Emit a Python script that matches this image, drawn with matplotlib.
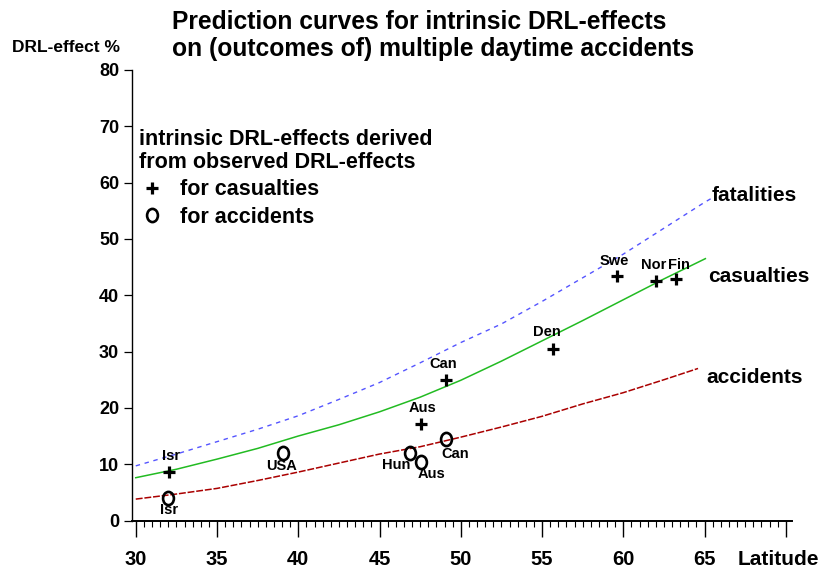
import matplotlib.pyplot as plt
from matplotlib.path import Path
from matplotlib.lines import Line2D
from matplotlib.ticker import MultipleLocator

plt.rcParams['font.family'] = ['Liberation Sans', 'DejaVu Sans']
plt.rcParams['font.weight'] = 'bold'

W, H = 824, 571

# prediction curves (latitude -> DRL-effect %)
fat_lat = [30, 32.5, 35, 37.5, 40, 42.5, 45, 47.5, 50, 52.5, 55, 57.5, 60, 62.5, 65, 65.6]
fat_val = [9.7, 11.8, 14.0, 16.2, 18.6, 21.5, 24.5, 28.0, 31.6, 34.9, 38.9, 43.1, 47.3, 51.9, 56.5, 57.5]

cas_lat = [30, 32.5, 35, 37.5, 40, 42.5, 45, 47.5, 50, 52.5, 55, 57.5, 60, 62.5, 65.05]
cas_val = [7.6, 9.1, 10.9, 12.8, 15.0, 17.0, 19.3, 21.9, 24.9, 28.3, 31.9, 35.5, 39.2, 42.9, 46.5]

acc_lat = [30, 32.5, 35, 37.5, 40, 42.5, 45, 47.5, 50, 52.5, 55, 57.5, 60, 62.5, 64.6]
acc_val = [3.8, 4.7, 5.7, 7.1, 8.6, 10.2, 11.8, 13.1, 14.8, 16.6, 18.5, 20.7, 22.7, 25.0, 27.0]

# intrinsic effects derived from observed effects
cas_names = ['Isr', 'Aus', 'Can', 'Den', 'Swe', 'Nor', 'Fin']
cas_pt_lat = [32.06, 47.57, 49.12, 55.66, 59.63, 62.04, 63.27]
cas_pt_val = [8.6, 17.2, 25.0, 30.5, 43.5, 42.6, 42.8]

acc_names = ['Isr', 'USA', 'Hun', 'Aus', 'Can']
acc_pt_lat = [31.99, 39.05, 46.87, 47.57, 49.12]
acc_pt_val = [4.0, 11.9, 12.0, 10.4, 14.4]

x_ticks = [30, 35, 40, 45, 50, 55, 60, 65, 70]
x_labels = ['30', '35', '40', '45', '50', '55', '60', '65', '']
y_ticks = [0, 10, 20, 30, 40, 50, 60, 70, 80]

# label offsets in pixels (dx, dy)
cas_off = [(2, 15), (1, 15), (-3, 15), (-6, 16), (-3, 14), (-3, 15), (3, 13)]
acc_off = [(1, -13), (-1, -14), (-14, -13), (10, -13), (9, -16)]


def fx(x):
    return x / W


def fy(y):
    return 1 - y / H


fig = plt.figure(figsize=(W / 100, H / 100), dpi=100)
ax = fig.add_axes([fx(131.7), fy(520.5), (792.3 - 131.7) / W, (520.5 - 70) / H])

ax.plot(fat_lat, fat_val, color='#5555ff', lw=1.0, dashes=(3.2, 3.4), clip_on=False)
ax.plot(cas_lat, cas_val, color='#22bb22', lw=1.1, clip_on=False)
ax.plot(acc_lat, acc_val, color='#aa0000', lw=1.1, dashes=(4.5, 1.2), clip_on=False)

# slightly tall oval, like the "O" in the original
circ = Path.unit_circle()
oval = Path(circ.vertices * [0.82, 1.0], circ.codes)

ax.plot(cas_pt_lat, cas_pt_val, ls='none', marker='+', ms=9, mew=2.3, color='black', clip_on=False)
ax.plot(acc_pt_lat, acc_pt_val, ls='none', marker=oval, ms=9.5, mew=1.9,
        mfc='none', mec='black', clip_on=False)

for name, la, v, (dx, dy) in zip(cas_names, cas_pt_lat, cas_pt_val, cas_off):
    ax.annotate(name, (la, v), xytext=(dx, dy + 1), textcoords='offset pixels',
                ha='center', va='center', fontsize=10.5, fontweight='bold')
for name, la, v, (dx, dy) in zip(acc_names, acc_pt_lat, acc_pt_val, acc_off):
    ax.annotate(name, (la, v), xytext=(dx, dy + 1), textcoords='offset pixels',
                ha='center', va='center', fontsize=10.5, fontweight='bold')

ax.set_xlim(29.75, 70.4)
ax.set_ylim(0, 80)
for s in ['top', 'right']:
    ax.spines[s].set_visible(False)
ax.spines['left'].set_linewidth(1.0)
ax.spines['bottom'].set_linewidth(1.4)

ax.set_xticks(x_ticks)
ax.set_xticklabels(x_labels)
ax.xaxis.set_minor_locator(MultipleLocator(0.5))
ax.tick_params(axis='x', which='major', direction='out', length=11.5, width=1.0,
               pad=9.5, labelsize=14.5)
ax.tick_params(axis='x', which='minor', direction='out', length=4.3, width=0.8)
ax.set_yticks(y_ticks)
ax.tick_params(axis='y', direction='out', length=5.8, width=0.9, pad=3.2, labelsize=13)
for t in ax.get_xticklabels() + ax.get_yticklabels():
    t.set_fontweight('bold')

# legend
cross = Line2D([], [], ls='none', marker='+', ms=9, mew=2.3, color='black')
ring = Line2D([], [], ls='none', marker=oval, ms=9.5, mew=1.9, mfc='none', mec='black')
leg = ax.legend([cross, ring], ['for casualties', 'for accidents'],
                title='intrinsic DRL-effects derived\nfrom observed DRL-effects',
                title_fontproperties={'size': 15.5, 'weight': 'bold'},
                prop={'size': 15.5, 'weight': 'bold'}, alignment='left',
                frameon=False, loc='upper left',
                bbox_to_anchor=(fx(139), fy(129)), bbox_transform=fig.transFigure,
                borderpad=0, borderaxespad=0, handlelength=1.18, handletextpad=0.73,
                labelspacing=0.3)
leg.get_title().set_linespacing(1.1)

# texts
fig.text(fx(172), fy(29), 'Prediction curves for intrinsic DRL-effects',
         fontsize=17.7, fontweight='bold', va='baseline')
fig.text(fx(172), fy(56), 'on (outcomes of) multiple daytime accidents',
         fontsize=17.7, fontweight='bold', va='baseline')
fig.text(fx(12), fy(51.7), 'DRL-effect %', fontsize=12.5, fontweight='bold', va='baseline')
fig.text(fx(738), fy(565), 'Latitude', fontsize=15, fontweight='bold', va='baseline')

fig.text(fx(712), fy(200.7), 'fatalities', fontsize=15, fontweight='bold', va='baseline')
fig.text(fx(708.5), fy(281.7), 'casualties', fontsize=15, fontweight='bold', va='baseline')
fig.text(fx(706.5), fy(383.3), 'accidents', fontsize=15, fontweight='bold', va='baseline')

fig.savefig('out.png', dpi=100)
